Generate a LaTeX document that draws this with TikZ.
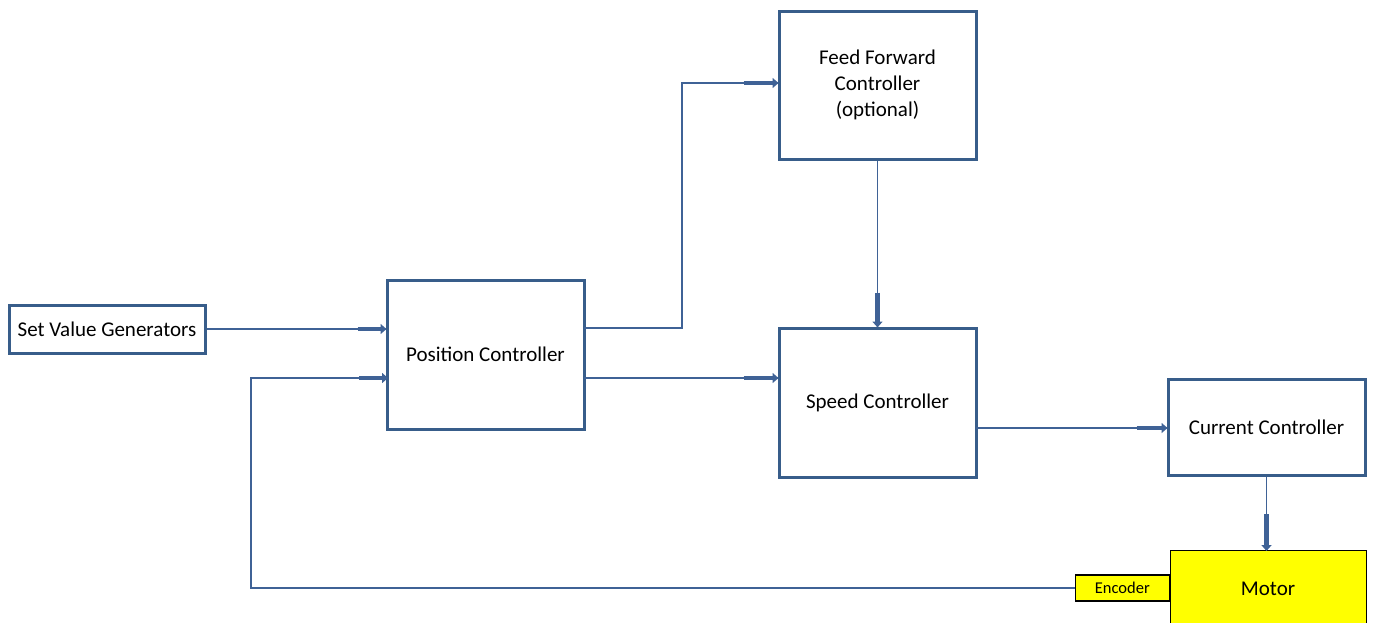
\documentclass[tikz,border=0pt]{standalone}
\usepackage{fontspec}
\setmainfont{Carlito}
\usetikzlibrary{arrows.meta,shadows,calc}
\definecolor{boxline}{HTML}{385D8A}
\definecolor{wire}{HTML}{3F6296}
\definecolor{motoryellow}{HTML}{FFFF00}
\tikzset{
  ctrl/.style={draw=boxline, line width=3pt, fill=white, inner sep=0pt,
    drop shadow={shadow xshift=2pt, shadow yshift=-2pt, opacity=0.35, fill=black},
    font=\fontsize{21}{26}\selectfont, align=center},
  wireline/.style={draw=wire, line width=1.6pt},
  headseg/.style={draw=wire, line width=4.5pt, -{Triangle[length=6pt,width=10pt]}, shorten >=-1pt},
}
\begin{document}
\begin{tikzpicture}[x=1pt,y=-1pt]
\useasboundingbox (0,0) rectangle (1373,622);
% boxes
\node[ctrl, minimum width=196pt, minimum height=48pt] (svg) at (107,329) {Set Value Generators};
\node[ctrl, minimum width=197pt, minimum height=149pt] (pos) at (485.5,354.5) {Position Controller};
\node[ctrl, minimum width=197pt, minimum height=148pt] (ff) at (877.5,85) {Feed Forward\\Controller\\(optional)};
\node[ctrl, minimum width=197pt, minimum height=149pt] (spd) at (877.5,402.5) {Speed Controller};
\node[ctrl, minimum width=197pt, minimum height=96pt] (cur) at (1266.5,427) {Current Controller};
\node[draw=black, line width=1.4pt, fill=motoryellow, minimum width=196pt, minimum height=80pt, anchor=north west] (mot) at (1170,550) {};
\node[font=\fontsize{21}{24}\selectfont] (motlbl) at (1268,589) {Motor};
\node[draw=black, line width=1.4pt, fill=motoryellow, minimum width=94pt, minimum height=26pt, anchor=east,
  font=\fontsize{16.5}{18}\selectfont, inner sep=0pt] (enc) at (1170,588) {Encoder};
% connectors
\coordinate (pin1) at (pos.west |- svg.east);
\coordinate (pin2) at (387,378);
\coordinate (pout1) at (584,328);
\coordinate (pout2) at (584,378);
\coordinate (ffin) at (ff.west |- 0,83);
\coordinate (spdin) at (spd.west |- pout2);
\coordinate (spdout) at (976,428);
\coordinate (curin) at (cur.west |- spdout);
\coordinate (ffout) at (ff.south);
\coordinate (spdtop) at (spd.north);
\coordinate (curbot) at (cur.south);
\coordinate (mottop) at (mot.north -| curbot);

\draw[wireline] (svg.east) -- (pin1);
\draw[headseg] ($(pin1)+(-28,0)$) -- (pin1);

\draw[wireline] (pout1) -| (682,83) -- (ffin);
\draw[headseg] ($(ffin)+(-34,0)$) -- (ffin);

\draw[wireline] (pout2) -- (spdin);
\draw[headseg] ($(spdin)+(-34,0)$) -- (spdin);

\draw[wireline] (enc.west) -| (251,378) -- (pin2);
\draw[headseg] ($(pin2)+(-28,0)$) -- (pin2);

\draw[wireline] (ffout) -- (spdtop);
\draw[headseg] ($(spdtop)+(0,-34)$) -- (spdtop);

\draw[wireline] (spdout) -- (curin);
\draw[headseg] ($(curin)+(-30,0)$) -- (curin);

\draw[wireline] (curbot) -- (mottop);
\draw[headseg] ($(mottop)+(0,-36)$) -- (mottop);
\end{tikzpicture}
\end{document}
